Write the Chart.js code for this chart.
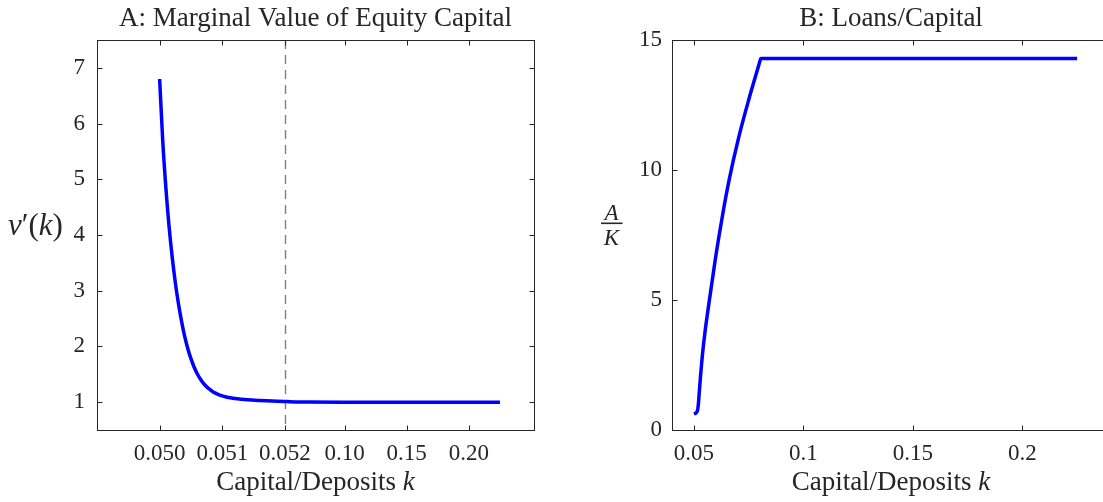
<!DOCTYPE html>
<html><head><meta charset="utf-8">
<script src="https://cdn.jsdelivr.net/npm/chart.js@4/dist/chart.umd.min.js"></script>
<style>
html,body{margin:0;padding:0;overflow:hidden;background:#fff;width:1103px;height:502px;}
#cA{position:absolute;left:0;top:0;}
#cB{position:absolute;left:560px;top:0;}
</style></head><body>
<canvas id="cA" width="560" height="502"></canvas>
<canvas id="cB" width="570" height="502"></canvas>
<script>
// ---------- Panel A data ----------
const kA = [0.05000,0.05005,0.05010,0.05015,0.05020,0.05025,0.05030,0.05035,0.05040,0.05045,0.05050,0.05055,0.05060,0.05065,0.05070,0.05075,0.05080,0.05085,0.05090,0.05095,0.05100,0.05105,0.05110,0.05120,0.05130,0.05140,0.05160,0.05180,0.05200,0.0560,0.0600,0.0700,0.1000,0.1500,0.2000,0.2250];
const vA = [6.80,5.68,4.84,4.16,3.61,3.15,2.77,2.45,2.18,1.96,1.78,1.63,1.51,1.414,1.337,1.276,1.227,1.188,1.157,1.132,1.112,1.096,1.083,1.064,1.051,1.041,1.029,1.020,1.013,1.006,1.003,1.001,1.0,0.998,0.997,0.997];
const xTicksA = [0.050,0.051,0.052,0.10,0.15,0.20];
const xTickLabelsA = ['0.050','0.051','0.052','0.10','0.15','0.20'];
const yTicksA = [1,2,3,4,5,6,7];
const cutoffK = 0.052;

// ---------- Panel B data ----------
const kB = [0.0500,0.0507,0.0514,0.0518,0.0521,0.0523,0.0530,0.0538,0.0550,0.0569,0.0599,0.0630,0.0660,0.0706,0.0751,0.0801,0.0805,0.1500,0.2250];
const lkB = [0.62,0.64,0.70,0.82,1.05,1.28,2.05,2.81,3.72,4.89,6.63,8.22,9.58,11.30,12.72,14.17,14.29,14.29,14.29];
const xTicksB = [0.05,0.1,0.15,0.2];
const xTickLabelsB = ['0.05','0.1','0.15','0.2'];
const yTicksB = [0,5,10,15];

// ---------- styling ----------
const FONT = "'Liberation Serif', 'Times New Roman', serif";
const INK = '#262626';
const BLUE = '#0000ff';

// piecewise-linear ("broken") axis for panel A
const BREAK_K = [0.049, 0.052, 0.2524];
const BREAK_F = [0, 0.4300, 1];
function toFrac(v){
  const i = v <= BREAK_K[1] ? 0 : 1;
  return BREAK_F[i] + (v - BREAK_K[i]) / (BREAK_K[i+1] - BREAK_K[i]) * (BREAK_F[i+1] - BREAK_F[i]);
}
function fromFrac(f){
  const i = f <= BREAK_F[1] ? 0 : 1;
  return BREAK_K[i] + (f - BREAK_F[i]) / (BREAK_F[i+1] - BREAK_F[i]) * (BREAK_K[i+1] - BREAK_K[i]);
}
class BrokenLinearScale extends Chart.LinearScale {
  getPixelForValue(value){ return this.getPixelForDecimal(toFrac(value)); }
  getValueForPixel(pixel){ return fromFrac(this.getDecimalForPixel(pixel)); }
}
BrokenLinearScale.id = 'brokenLinear';
BrokenLinearScale.defaults = Chart.LinearScale.defaults;
Chart.register(BrokenLinearScale);

function drawRich(ctx, segs, x, y, align){
  let total = 0;
  segs.forEach(s => { ctx.font = s.f; s.w = ctx.measureText(s.t).width; total += s.w; });
  let cx = align === 'center' ? x - total/2 : x;
  ctx.textAlign = 'left'; ctx.textBaseline = 'alphabetic'; ctx.fillStyle = INK;
  segs.forEach(s => { ctx.font = s.f; ctx.fillText(s.t, cx, y); cx += s.w; });
}

function boxPlugin(xTicks, yTicks, extra){
  return {
    id: 'box',
    beforeDatasetsDraw(chart){
      if (extra && extra.before) extra.before(chart);
    },
    afterDraw(chart){
      const {ctx, chartArea: a, scales: {x, y}} = chart;
      ctx.save();
      ctx.strokeStyle = INK; ctx.lineWidth = 1;
      const L = Math.round(a.left)+0.5, R = Math.round(a.right)+0.5, T = Math.round(a.top)+0.5, B = Math.round(a.bottom)+0.5;
      ctx.strokeRect(L, T, R-L, B-T);
      const tl = 5;
      ctx.beginPath();
      xTicks.forEach(v => { const p = Math.round(x.getPixelForValue(v))+0.5; ctx.moveTo(p,B); ctx.lineTo(p,B-tl); ctx.moveTo(p,T); ctx.lineTo(p,T+tl); });
      yTicks.forEach(v => { const p = Math.round(y.getPixelForValue(v))+0.5; ctx.moveTo(L,p); ctx.lineTo(L+tl,p); ctx.moveTo(R,p); ctx.lineTo(R-tl,p); });
      ctx.stroke();
      const cx = (a.left + a.right)/2;
      drawRich(ctx, [{t: extra.title, f: `27px ${FONT}`}], cx, 26, 'center');
      drawRich(ctx, [{t:'Capital/Deposits ', f:`27px ${FONT}`},{t:'k', f:`italic 27px ${FONT}`}], cx, 490, 'center');
      if (extra && extra.after) extra.after(chart);
      ctx.restore();
    }
  };
}

function axisCommon(ticksArr, labels, fitProp, fitVal, pad){
  return {
    afterBuildTicks: s => { s.ticks = ticksArr.map(v => ({value: v})); },
    afterFit: s => { s[fitProp] = fitVal; },
    ticks: {
      callback: (v, i) => labels ? labels[i] : String(v),
      autoSkip: false, maxRotation: 0, minRotation: 0,
      font: {family: FONT, size: 23}, color: INK, padding: pad
    },
    grid: {display: false, drawTicks: false},
    border: {display: false}
  };
}

// ---------- Panel A ----------
new Chart(document.getElementById('cA'), {
  type: 'line',
  data: { datasets: [{
    data: kA.map((k, i) => ({x: k, y: vA[i]})),
    borderColor: BLUE, borderWidth: 3.5, pointRadius: 0, fill: false,
    cubicInterpolationMode: 'monotone'
  }]},
  options: {
    responsive: false, animation: false, devicePixelRatio: 1,
    layout: {padding: {top: 40, right: 26, bottom: 0, left: 0}},
    plugins: {legend: {display: false}, title: {display: false}, tooltip: {enabled: false}},
    scales: {
      x: Object.assign({type: 'brokenLinear', min: 0.049, max: 0.2524}, axisCommon(xTicksA, xTickLabelsA, 'height', 72, 10)),
      y: Object.assign({type: 'linear', min: 0.5, max: 7.5}, axisCommon(yTicksA, null, 'width', 97, 12))
    }
  },
  plugins: [boxPlugin(xTicksA, yTicksA, {
    title: 'A: Marginal Value of Equity Capital',
    before(chart){
      const {ctx, chartArea: a, scales: {x}} = chart;
      const p = Math.round(x.getPixelForValue(cutoffK)) + 0.5;
      ctx.save();
      ctx.strokeStyle = '#808080'; ctx.lineWidth = 1.4; ctx.setLineDash([9, 6]);
      ctx.beginPath(); ctx.moveTo(p, a.top); ctx.lineTo(p, a.bottom); ctx.stroke();
      ctx.restore();
    },
    after(chart){
      const ctx = chart.ctx;
      drawRich(ctx, [
        {t:'v', f:`italic 31px ${FONT}`},
        {t:'\u2032', f:`31px ${FONT}`},
        {t:'(', f:`31px ${FONT}`},
        {t:'k', f:`italic 31px ${FONT}`},
        {t:')', f:`31px ${FONT}`}
      ], 8, 235, 'left');
    }
  })]
});

// ---------- Panel B ----------
new Chart(document.getElementById('cB'), {
  type: 'line',
  data: { datasets: [{
    data: kB.map((k, i) => ({x: k, y: lkB[i]})),
    borderColor: BLUE, borderWidth: 3.5, pointRadius: 0, fill: false,
    cubicInterpolationMode: 'monotone'
  }]},
  options: {
    responsive: false, animation: false, devicePixelRatio: 1,
    layout: {padding: {top: 40, right: 20, bottom: 0, left: 0}},
    plugins: {legend: {display: false}, title: {display: false}, tooltip: {enabled: false}},
    scales: {
      x: Object.assign({type: 'linear', min: 0.04, max: 0.24}, axisCommon(xTicksB, xTickLabelsB, 'height', 72, 10)),
      y: Object.assign({type: 'linear', min: 0, max: 15}, axisCommon(yTicksB, null, 'width', 112, 10))
    }
  },
  plugins: [boxPlugin(xTicksB, yTicksB, {
    title: 'B: Loans/Capital',
    after(chart){
      const ctx = chart.ctx;
      const cx = 51.5;
      ctx.font = `italic 23px ${FONT}`; ctx.textAlign = 'center'; ctx.textBaseline = 'alphabetic'; ctx.fillStyle = INK;
      ctx.fillText('A', cx, 220);
      ctx.fillText('K', cx, 245);
      ctx.fillRect(41, 222.5, 21.5, 1.6);
    }
  })]
});
</script>
</body></html>
